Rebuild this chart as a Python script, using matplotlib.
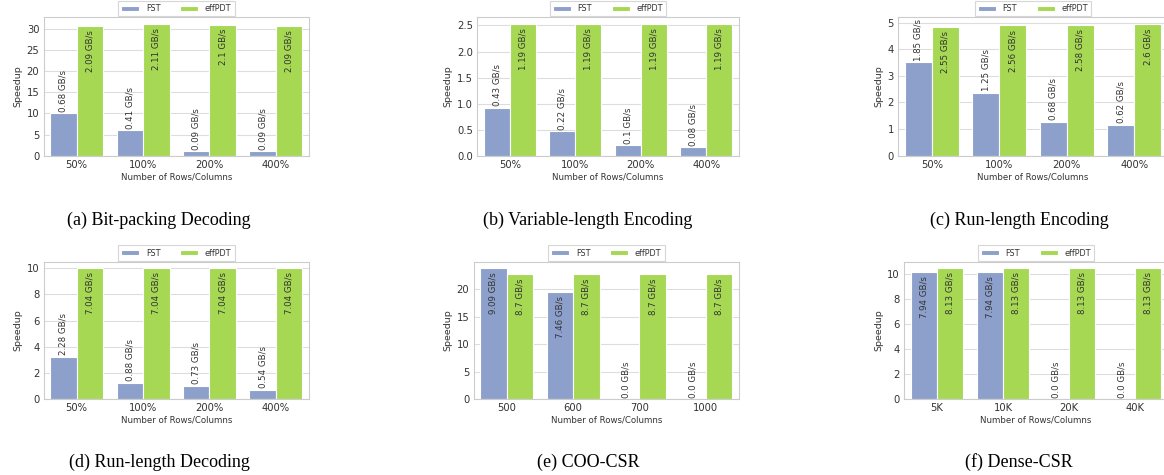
import matplotlib
matplotlib.use("Agg")
import matplotlib.pyplot as plt
from matplotlib.ticker import MultipleLocator
import numpy as np

# ---------------- data ----------------
series_names = ["FST", "effPDT"]

pct_cats = ["50%", "100%", "200%", "400%"]
coo_cats = ["500", "600", "700", "1000"]
dense_cats = ["5K", "10K", "20K", "40K"]

titles = ["(a) Bit-packing Decoding", "(b) Variable-length Encoding", "(c) Run-length Encoding",
          "(d) Run-length Decoding", "(e) COO-CSR", "(f) Dense-CSR"]

# speedup values
a_fst = [10.0, 6.0, 1.1, 1.1]
a_eff = [30.7, 31.1, 30.9, 30.7]
b_fst = [0.92, 0.47, 0.20, 0.16]
b_eff = [2.53, 2.53, 2.53, 2.53]
c_fst = [3.52, 2.37, 1.28, 1.17]
c_eff = [4.85, 4.89, 4.92, 4.95]
d_fst = [3.25, 1.25, 1.02, 0.72]
d_eff = [10.0, 10.0, 10.0, 10.0]
e_fst = [23.8, 19.45, 0.0, 0.0]
e_eff = [22.7, 22.7, 22.7, 22.7]
f_fst = [10.2, 10.2, 0.0, 0.0]
f_eff = [10.48, 10.48, 10.48, 10.48]

# throughput labels (GB/s)
a_fst_lab = ["0.68", "0.41", "0.09", "0.09"]
a_eff_lab = ["2.09", "2.11", "2.1", "2.09"]
b_fst_lab = ["0.43", "0.22", "0.1", "0.08"]
b_eff_lab = ["1.19", "1.19", "1.19", "1.19"]
c_fst_lab = ["1.85", "1.25", "0.68", "0.62"]
c_eff_lab = ["2.55", "2.56", "2.58", "2.6"]
d_fst_lab = ["2.28", "0.88", "0.73", "0.54"]
d_eff_lab = ["7.04", "7.04", "7.04", "7.04"]
e_fst_lab = ["9.09", "7.46", "0.0", "0.0"]
e_eff_lab = ["8.7", "8.7", "8.7", "8.7"]
f_fst_lab = ["7.94", "7.94", "0.0", "0.0"]
f_eff_lab = ["8.13", "8.13", "8.13", "8.13"]

panels = [
    (pct_cats, a_fst, a_eff, a_fst_lab, a_eff_lab),
    (pct_cats, b_fst, b_eff, b_fst_lab, b_eff_lab),
    (pct_cats, c_fst, c_eff, c_fst_lab, c_eff_lab),
    (pct_cats, d_fst, d_eff, d_fst_lab, d_eff_lab),
    (coo_cats, e_fst, e_eff, e_fst_lab, e_eff_lab),
    (dense_cats, f_fst, f_eff, f_fst_lab, f_eff_lab),
]
ytick_steps = [5, 0.5, 1, 2, 5, 2]

# ---------------- style ----------------
colors = ["#8da0cb", "#a6d854"]
W, H = 1164, 475
fig = plt.figure(figsize=(W / 100, H / 100), dpi=100)
plt.rcParams["font.family"] = ["DejaVu Sans"]

# axes rectangles in pixels: (left, right, top, bottom)
rects = [
    (43.5, 309, 17.3, 155.7),
    (477, 739, 17.3, 155.7),
    (898, 1168, 17.3, 155.7),
    (43.5, 309, 261.7, 399),
    (473.5, 739, 261.7, 399),
    (904, 1168, 261.7, 399),
]
caption_pos = [(159, 220), (588, 220), (1019, 220), (159, 462), (588, 462), (1019, 462)]

text_col = "#333333"
grid_col = "#dddddd"
spine_col = "#cccccc"

for i, (cats, fst, eff, fst_lab, eff_lab) in enumerate(panels):
    l, r, t, b = rects[i]
    ax = fig.add_axes([l / W, 1 - b / H, (r - l) / W, (b - t) / H])
    x = np.arange(len(cats))
    bw = 0.4
    bars_f = ax.bar(x - bw / 2, fst, bw, color=colors[0], edgecolor="white", linewidth=0.8,
                    label=series_names[0], zorder=2)
    bars_e = ax.bar(x + bw / 2, eff, bw, color=colors[1], edgecolor="white", linewidth=0.8,
                    label=series_names[1], zorder=2)
    ax.set_xlim(-0.5, len(cats) - 0.5)
    ax.autoscale_view()
    ymax = ax.get_ylim()[1]
    ax.yaxis.set_major_locator(MultipleLocator(ytick_steps[i]))
    ax.set_ylim(0, ymax)
    ax.set_xticks(x)
    ax.set_xticklabels(cats)

    for bars, labs in ((bars_f, fst_lab), (bars_e, eff_lab)):
        for bar, lab in zip(bars, labs):
            h = bar.get_height()
            cx = bar.get_x() + bar.get_width() / 2
            if h > 0.75 * ymax:
                ax.annotate(f"{lab} GB/s", (cx, h), xytext=(0, -3), textcoords="offset points",
                            rotation=90, ha="center", va="top", fontsize=6.2, color=text_col,
                            zorder=3)
            else:
                ax.annotate(f"{lab} GB/s", (cx, h), xytext=(0, 1), textcoords="offset points",
                            rotation=90, ha="center", va="bottom", fontsize=6.2, color=text_col,
                            zorder=3)

    ax.grid(axis="y", color=grid_col, linewidth=0.8, zorder=0)
    ax.set_axisbelow(True)
    for s in ax.spines.values():
        s.set_color(spine_col)
        s.set_linewidth(0.8)
    ax.tick_params(axis="both", length=0, labelsize=7.2, colors="#333333", pad=3)
    ax.set_ylabel("Speedup", fontsize=6.8, color="#333333", labelpad=3)
    ax.set_xlabel("Number of Rows/Columns", fontsize=6.2, color="#333333", labelpad=2)

    leg = ax.legend(loc="lower center", bbox_to_anchor=(0.5, 1.0), ncol=2, fontsize=5.9,
                    frameon=True, handlelength=2.2, handleheight=0.6, columnspacing=2.4,
                    borderaxespad=0.1, borderpad=0.4, handletextpad=0.8, fancybox=False)
    leg.get_frame().set_edgecolor(spine_col)
    leg.get_frame().set_linewidth(0.8)
    for txt in leg.get_texts():
        txt.set_color("#333333")

    cx_, cy_ = caption_pos[i]
    fig.text(cx_ / W, 1 - cy_ / H, titles[i], ha="center", va="center",
             fontsize=13, family=["Liberation Serif"], color="black")

fig.savefig("out.png", dpi=100, facecolor="white")
